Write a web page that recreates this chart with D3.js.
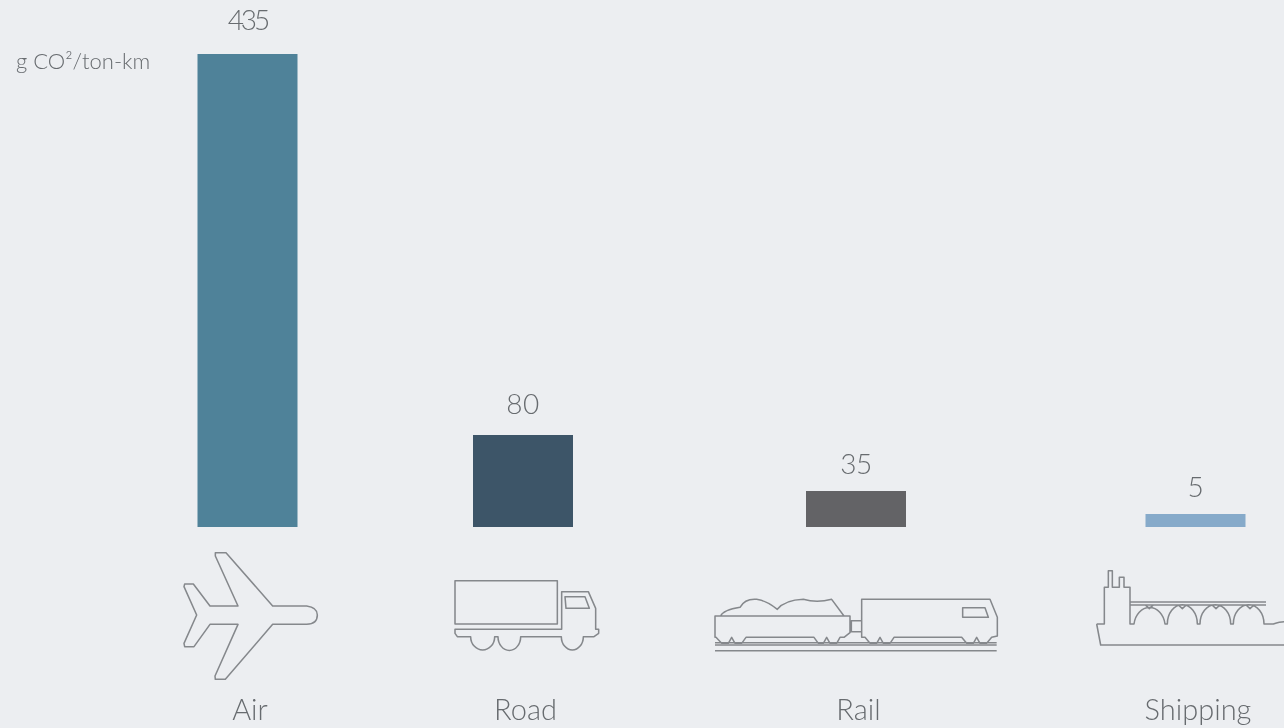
<!DOCTYPE html>
<html>
<head>
<meta charset="utf-8">
<script src="https://cdn.jsdelivr.net/npm/d3@7"></script>
<style>
    html, body { margin: 0; padding: 0; background: #eceef1; overflow: hidden; }
    svg { display: block; filter: blur(0.6px); }
    text { font-family: Lato, "Open Sans", sans-serif; font-weight: 300; fill: #676b6f; }
    .icon path { fill: none; stroke: #85888c; stroke-width: 4.6; stroke-linejoin: round; }
</style>
</head>
<body>
<svg id="chart" width="1284" height="728"></svg>
<script>
// Data
var categories = ["Air", "Road", "Rail", "Shipping"];
var values = [435, 80, 35, 5];
var colors = ["#4f8299", "#3d5568", "#636366", "#86aaca"];
var unit = "g CO²/ton-km";

// The icons are outlines traced at 3x, so each one is drawn scaled by 1/3
var icons = {
    Air: "M440 228Q472 232 472 255Q472 282 440 283L338 283L196 448L166 448L165 438L234 283L150 283L102 350L74 350L72 340L110 255L72 170L74 162L100 162L150 228L234 228L166 78L166 68L198 68L338 228Z",
    Road: "M885 152H1192V282H885Z" +
        "M885 298H1205V185H1285L1307 235V298H1316V310L1302 320H1270A33 40 0 0 1 1204 320H1082A33 40 0 0 1 1014 320H1004A36 40 0 0 1 932 320H892L885 310Z" +
        "M1215 200H1275L1288 235H1218Z",
    Rail: "M75 258H480V308L462 322H450L440 340H420L410 322L400 340H385L372 322H195L185 322H168L155 340H135L125 322L115 340H95L78 322H75Z" +
        "M92 258Q100 240 150 232Q165 205 200 208Q230 212 262 238Q285 210 340 208Q380 220 425 208L462 258" +
        "M484 272H515V305H484Z" +
        "M515 208H900L922 262V318L905 322L890 340H870L860 322L850 340H830L815 322H635H612L600 340H580L570 322L560 340H540L525 322H515Z" +
        "M818 233H885L895 262H818Z" +
        "M75 338H920M75 345H920M75 362H920",
    Shipping: "M110 462L122 525H672M110 462H133V352H145V302H157V352H178V322H192V352H210V462H222" +
        "A47 58 0 0 1 315 462H322A45 58 0 0 1 412 462H420A46 58 0 0 1 512 462H520A46 58 0 0 1 612 462L615 462H640Q660 455 672 455" +
        "M210 396H618M210 405H618" +
        "M256 405L268 416L280 405M355 405L367 416L379 405M456 405L468 416L480 405M558 405L570 416L582 405"
};

const width = 1284,
    height = 728;

var svg = d3.select("#chart").attr("width", width).attr("height", height);

// Bar centres are not evenly spaced in the original
var x = d3.scaleOrdinal().domain(categories).range([247.5, 523, 856, 1195.5]);
const barWidth = 100;

// The original's bars are not proportional to their labels, so the scale goes through each one
var y = d3.scaleLinear().domain([0, 5, 35, 80, 435]).range([527, 514, 491, 435, 54]);

var color = d3.scaleOrdinal().domain(categories).range(colors);

var iconOffset = d3.scaleOrdinal().domain(categories).range([[160, 530], [160, 530], [690, 530], [1060, 470]]);

// Gap above each bar and digit spacing differ from label to label
var labelGap = d3.scaleOrdinal().domain(categories).range([24, 21, 17, 17]);
var labelSpacing = d3.scaleOrdinal().domain(categories).range([-3, 0.5, -0.5, 0]);

var rows = categories.map(function(c, i) {
    return {category: c, value: values[i]};
});

svg.selectAll("rect.bar")
    .data(rows)
    .enter().append("rect")
    .attr("class", "bar")
    .attr("x", function(d) { return x(d.category) - barWidth / 2; })
    .attr("y", function(d) { return y(d.value); })
    .attr("width", barWidth)
    .attr("height", function(d) { return y(0) - y(d.value); })
    .style("fill", function(d) { return color(d.category); });

svg.selectAll("text.value")
    .data(rows)
    .enter().append("text")
    .attr("class", "value")
    .attr("x", function(d) { return x(d.category); })
    .attr("y", function(d) { return y(d.value) - labelGap(d.category); })
    .attr("text-anchor", "middle")
    .style("font-size", "28px")
    .style("letter-spacing", function(d) { return labelSpacing(d.category) + "px"; })
    .text(function(d) { return d.value; });

svg.selectAll("g.icon")
    .data(rows)
    .enter().append("g")
    .attr("class", "icon")
    .attr("transform", function(d) {
        var o = iconOffset(d.category);
        return "translate(" + o[0] + "," + o[1] + ") scale(" + (1 / 3) + ")";
    })
    .append("path")
    .attr("d", function(d) { return icons[d.category]; });

svg.selectAll("text.category")
    .data(rows)
    .enter().append("text")
    .attr("class", "category")
    .attr("x", function(d) { return x(d.category) + 2.5; })
    .attr("y", 720)
    .attr("text-anchor", "middle")
    .style("font-size", "29px")
    .text(function(d) { return d.category; });

svg.append("text")
    .attr("x", 16)
    .attr("y", 69)
    .style("font-size", "22px")
    .text(unit);
</script>
</body>
</html>
